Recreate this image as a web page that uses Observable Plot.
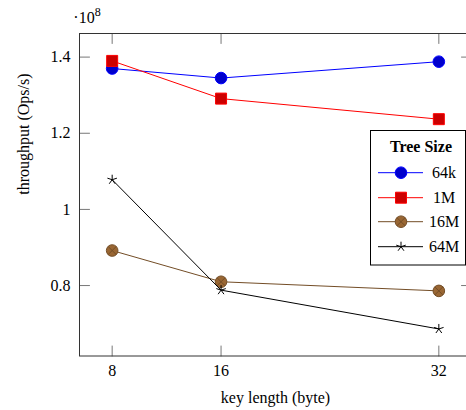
<!DOCTYPE html>
<html><head><meta charset="utf-8">
<script src="https://cdn.jsdelivr.net/npm/d3@7"></script>
<script src="https://cdn.jsdelivr.net/npm/@observablehq/plot@0.6"></script>
<style>
html,body{margin:0;padding:0;background:#fff;}
#chart svg{display:block;overflow:hidden;}
</style></head><body><div id="chart"></div>
<script>
// ---- data ----
const keyLengths = [8, 16, 32];
const treeSizes = ["64k", "1M", "16M", "64M"];
const tp64k = [1.370, 1.345, 1.388];
const tp1M  = [1.390, 1.291, 1.237];
const tp16M = [0.892, 0.810, 0.786];
const tp64M = [1.078, 0.788, 0.686];
const xTicks = [8, 16, 32];
const yTicks = [0.8, 1, 1.2, 1.4];
const yTickLabels = ["0.8", "1", "1.2", "1.4"];
const xLabel = "key length (byte)";
const yLabel = "throughput (Ops/s)";
const legendTitle = "Tree Size";

// ---- styles ----
const lineColors = ["#0000ff", "#ff0000", "#734d26", "#000000"];
const markFills = ["#0000cc", "#cc0000", "#996633", "none"];
const markRadii = [5.8, 6.2, 5.8, 5.0];

const otimes = {draw(ctx, size) {
  const r = Math.sqrt(size / Math.PI);
  ctx.moveTo(r, 0); ctx.arc(0, 0, r, 0, 2 * Math.PI); ctx.closePath();
  const d = r * Math.SQRT1_2;
  ctx.moveTo(-d, -d); ctx.lineTo(d, d); ctx.moveTo(-d, d); ctx.lineTo(d, -d);
}};
const star5 = {draw(ctx, size) {
  const r = Math.sqrt(size / Math.PI);
  for (let k = 0; k < 5; k++) {
    const a = -Math.PI / 2 + k * 2 * Math.PI / 5;
    ctx.moveTo(0, 0); ctx.lineTo(r * Math.cos(a), r * Math.sin(a));
  }
}};
const plotSymbols = ["circle", "square", otimes, star5];
const d3Symbols = [d3.symbolCircle, d3.symbolSquare, otimes, star5];
const tickShape = {draw(ctx, l) { ctx.moveTo(0, 0); ctx.lineTo(0, -l); }};

const seriesValues = [tp64k, tp1M, tp16M, tp64M];
const rows = treeSizes.flatMap((s, i) => keyLengths.map((k, j) => ({size: s, key: k, tp: seriesValues[i][j]})));

const W = 466, H = 410;
const mL = 79, mR = -5, mT = 33, mB = 54.5;
const font = "'Liberation Serif', 'DejaVu Serif', serif";
const tickColor = "#777";
const fs = 16;

const chart = Plot.plot({
  width: W, height: H,
  marginLeft: mL, marginRight: mR, marginTop: mT, marginBottom: mB,
  style: {fontFamily: font, fontSize: fs + "px", background: "#fff", color: "#000"},
  x: {type: "linear", domain: [5.6, 34.4], range: [mL, W - mR]},
  y: {type: "linear", domain: [0.615, 1.462], range: [H - mB, mT]},
  marks: [
    Plot.vector(xTicks, {x: d => d, frameAnchor: "bottom", length: 10, anchor: "start", shape: tickShape, stroke: tickColor, strokeWidth: 1}),
    Plot.vector(xTicks, {x: d => d, frameAnchor: "top", length: 10, anchor: "start", rotate: 180, shape: tickShape, stroke: tickColor, strokeWidth: 1}),
    Plot.vector(yTicks, {y: d => d, frameAnchor: "left", length: 10, anchor: "start", rotate: 90, shape: tickShape, stroke: tickColor, strokeWidth: 1}),
    Plot.vector(yTicks, {y: d => d, frameAnchor: "right", length: 10, anchor: "start", rotate: -90, shape: tickShape, stroke: tickColor, strokeWidth: 1}),
    Plot.axisX(xTicks, {anchor: "bottom", tickSize: 0, tickPadding: 9, label: null, fontSize: fs}),
    Plot.axisY(yTicks, {anchor: "left", tickSize: 0, tickPadding: 9, label: null, fontSize: fs,
      tickFormat: d => yTickLabels[yTicks.indexOf(d)]}),
    ...treeSizes.flatMap((s, i) => [
      Plot.line(rows.filter(r => r.size === s), {x: "key", y: "tp", stroke: lineColors[i], strokeWidth: 1}),
      Plot.dot(rows.filter(r => r.size === s), {x: "key", y: "tp", symbol: plotSymbols[i], r: markRadii[i],
        fill: markFills[i], stroke: lineColors[i], strokeWidth: 1})
    ]),
    Plot.frame({stroke: "#333", strokeWidth: 1}),
    Plot.text([xLabel], {frameAnchor: "bottom", dy: 47, text: d => d, fontSize: fs}),
    Plot.text([yLabel], {frameAnchor: "left", dx: -56, rotate: -90, text: d => d, fontSize: fs})
  ]
});
document.getElementById("chart").appendChild(chart);

// exponent label
const svg = d3.select(chart);
const ex = svg.append("text").attr("x", 87).attr("y", 23).attr("font-family", font).attr("font-size", fs).attr("fill", "#000");
ex.append("tspan").text("·10");
ex.append("tspan").attr("font-size", 12).attr("dy", -7).text("8");

// legend
const lg = svg.append("g").attr("font-family", font).attr("font-size", fs);
lg.append("rect").attr("x", 370.5).attr("y", 130.5).attr("width", 95).attr("height", 134.5)
  .attr("fill", "#fff").attr("stroke", "#000").attr("stroke-width", 1);
lg.append("text").attr("x", 421).attr("y", 152).attr("text-anchor", "middle").attr("font-weight", "bold").text(legendTitle);
const legendY = [172.7, 197.7, 221.7, 246.7];
treeSizes.forEach((s, i) => {
  const y = legendY[i];
  lg.append("line").attr("x1", 378).attr("x2", 423).attr("y1", y).attr("y2", y).attr("stroke", lineColors[i]).attr("stroke-width", 1);
  lg.append("path").attr("transform", `translate(401,${y})`)
    .attr("d", d3.symbol().type(d3Symbols[i]).size(Math.PI * markRadii[i] ** 2)())
    .attr("fill", markFills[i]).attr("stroke", lineColors[i]).attr("stroke-width", 1);
  lg.append("text").attr("x", 444).attr("y", y).attr("dy", "0.33em").attr("text-anchor", "middle").text(s);
});
</script>
</body></html>
